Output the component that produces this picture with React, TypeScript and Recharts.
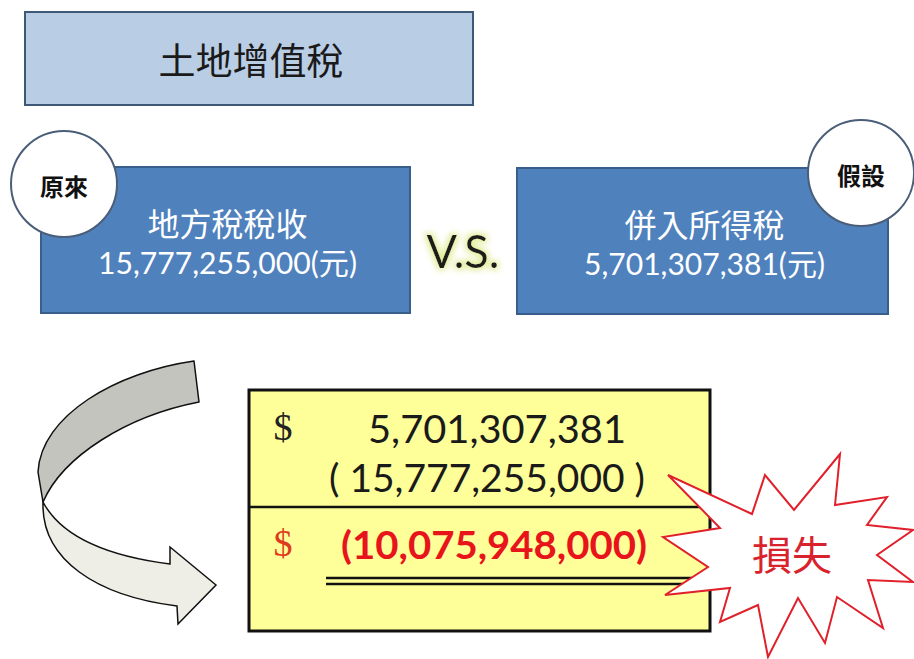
import { ComposedChart, XAxis, YAxis, ReferenceArea, ReferenceDot } from "recharts";

// text content
const headerTitle = "土地增值稅";
const scenarioTags = ["原來", "假設"];
const scenarioNames = ["地方稅稅收", "併入所得稅"];
const scenarioAmounts = [15777255000, 5701307381];
const currencyUnit = "元";
const versusLabel = "V.S.";
const lossAmount = 10075948000;
const lossLabel = "損失";

const W = 914;
const H = 659;

// layout in axis units (1 unit = 1px)
const titleBox = { x1: 25, x2: 473, y1: 12, y2: 105 };
const scenarioBoxes = [
  { x1: 41, x2: 410, y1: 167, y2: 313 },
  { x1: 517, x2: 888, y1: 168, y2: 314 },
];
const tagSpots = [
  { x: 64, y: 184 },
  { x: 861, y: 173 },
];
const versusSpot = { x: 463, y: 250 };
const ledgerBox = { x1: 249, x2: 710, y1: 390, y2: 631 };
const arrowBox = { x1: 37, x2: 217, y1: 360, y2: 625 };
const burstBox = { x1: 661, x2: 914, y1: 453, y2: 658 };

const CJK = "'Noto Sans CJK TC', sans-serif";
const LATIN = "Lato, 'Noto Sans CJK TC', sans-serif";
const SERIF = "'Liberation Serif', 'DejaVu Serif', serif";

const fmt = (n: number) => n.toLocaleString("en-US");

const TitleShape = (p: any) => {
  const { x, y, width, height } = p;
  return (
    <g>
      <rect x={x} y={y} width={width} height={height} fill="#B9CDE5" stroke="#3E5878" strokeWidth={2} />
      <text
        x={x + width / 2 + 2}
        y={y + height / 2}
        textAnchor="middle"
        dominantBaseline="central"
        fontFamily={CJK}
        fontSize={37}
        fill="#1a1a1a"
      >
        {headerTitle}
      </text>
    </g>
  );
};

const makeScenarioShape = (i: number) => (p: any) => {
  const { x, y, width, height } = p;
  const cx = x + width / 2;
  const amountText = `${fmt(scenarioAmounts[i])}(${currencyUnit})`;
  return (
    <g>
      <rect x={x} y={y} width={width} height={height} fill="#4F81BD" stroke="#395E8C" strokeWidth={2} />
      <text x={cx + 2} y={y + 55} textAnchor="middle" dominantBaseline="central" fontFamily={CJK} fontSize={32} fill="#fff">
        {scenarioNames[i]}
      </text>
      <text
        x={cx + 2}
        y={y + 95}
        textAnchor="middle"
        dominantBaseline="central"
        fontFamily={LATIN}
        fontSize={30}
        fill="#fff"
        textLength={i === 0 ? 259 : 241}
        lengthAdjust="spacingAndGlyphs"
      >
        {amountText}
      </text>
    </g>
  );
};

const makeTagShape = (i: number) => (p: any) => {
  const { cx, cy, r } = p;
  return (
    <g>
      <circle cx={cx} cy={cy} r={r} fill="#fff" stroke="#4A5E78" strokeWidth={2} />
      <text x={cx} y={cy + 1} textAnchor="middle" dominantBaseline="central" fontFamily={CJK} fontWeight={700} fontSize={24} fill="#111">
        {scenarioTags[i]}
      </text>
    </g>
  );
};

const VersusShape = (p: any) => {
  const { cx, cy } = p;
  return (
    <g>
      <defs>
        <filter id="vsGlow" x="-40%" y="-40%" width="180%" height="180%">
          <feMorphology in="SourceAlpha" operator="dilate" radius="2" result="d" />
          <feGaussianBlur in="d" stdDeviation="3" result="b" />
          <feFlood floodColor="#E2EC98" />
          <feComposite in2="b" operator="in" result="g" />
          <feMerge>
            <feMergeNode in="g" />
            <feMergeNode in="SourceGraphic" />
          </feMerge>
        </filter>
      </defs>
      <text
        x={cx}
        y={cy}
        textAnchor="middle"
        dominantBaseline="central"
        fontFamily={LATIN}
        fontSize={46}
        fill="#1c1c1c"
        filter="url(#vsGlow)"
        textLength={73}
        lengthAdjust="spacingAndGlyphs"
      >
        {versusLabel}
      </text>
    </g>
  );
};

const LedgerShape = (p: any) => {
  const { x, y, width, height } = p;
  return (
    <g>
      <rect x={x} y={y} width={width} height={height} fill="#FFFF99" stroke="#111" strokeWidth={3} />
      <line x1={x} x2={x + width} y1={y + 117} y2={y + 117} stroke="#111" strokeWidth={2.5} />
      <line x1={x + 77} x2={x + 443} y1={y + 188} y2={y + 188} stroke="#111" strokeWidth={2.5} />
      <line x1={x + 77} x2={x + 443} y1={y + 194} y2={y + 194} stroke="#111" strokeWidth={2.5} />
      <text x={x + 34} y={y + 37} textAnchor="middle" dominantBaseline="central" fontFamily={SERIF} fontSize={38} fill="#222">
        $
      </text>
      <text
        x={x + 248}
        y={y + 38}
        textAnchor="middle"
        dominantBaseline="central"
        fontFamily={LATIN}
        fontSize={38}
        fill="#1a1a1a"
        textLength={258}
        lengthAdjust="spacingAndGlyphs"
      >
        {fmt(scenarioAmounts[1])}
      </text>
      <text
        x={x + 238}
        y={y + 87}
        textAnchor="middle"
        dominantBaseline="central"
        fontFamily={LATIN}
        fontSize={38}
        fill="#1a1a1a"
        textLength={316}
        lengthAdjust="spacingAndGlyphs"
      >
        {`( ${fmt(scenarioAmounts[0])} )`}
      </text>
      <text x={x + 34} y={y + 153} textAnchor="middle" dominantBaseline="central" fontFamily={SERIF} fontSize={38} fill="#E03A1E">
        $
      </text>
      <text
        x={x + 245}
        y={y + 154}
        textAnchor="middle"
        dominantBaseline="central"
        fontFamily={LATIN}
        fontWeight={700}
        fontSize={38}
        fill="#E8141B"
        textLength={306}
        lengthAdjust="spacingAndGlyphs"
      >
        {`(${fmt(lossAmount)})`}
      </text>
    </g>
  );
};

const ArrowShape = (p: any) => {
  const { x, y, width, height } = p;
  const sx = width / 180;
  const sy = height / 265;
  return (
    <g transform={`translate(${x},${y}) scale(${sx},${sy})`}>
      <path
        d="M157,1 C80,12 4,55 1,112 L6,142 C26,96 90,56 162,42 Z"
        fill="#C4C4BF"
        stroke="#111"
        strokeWidth={1.5}
        strokeLinejoin="round"
      />
      <path
        d="M6,142 C4,200 60,236 140,246 L141,264 L179,225 L133,187 L133,204 C70,196 24,176 6,142 Z"
        fill="#EEEDE6"
        stroke="#111"
        strokeWidth={1.5}
        strokeLinejoin="miter"
      />
    </g>
  );
};

const burstPoints = [
  [7, 22], [91, 61], [104, 22], [133, 57], [179, 1], [174, 52],
  [226, 44], [206, 72], [252, 77], [216, 102], [252, 129], [207, 127],
  [222, 175], [176, 144], [164, 190], [137, 145], [107, 204], [97, 152],
  [59, 169], [69, 135], [4, 142], [47, 114], [2, 84], [59, 75],
];

const BurstShape = (p: any) => {
  const { x, y, width, height } = p;
  const sx = width / 253;
  const sy = height / 205;
  const pts = burstPoints.map(([px, py]) => `${x + px * sx},${y + py * sy}`).join(" ");
  return (
    <g>
      <polygon points={pts} fill="#fff" stroke="#E0202A" strokeWidth={2} strokeLinejoin="miter" />
      <text
        x={x + 131 * sx}
        y={y + 100 * sy}
        textAnchor="middle"
        dominantBaseline="central"
        fontFamily={CJK}
        fontSize={40}
        fill="#D8232C"
      >
        {lossLabel}
      </text>
    </g>
  );
};

export default function App() {
  return (
    <div style={{ position: "absolute", left: 0, top: 0, background: "#fff" }}>
      <ComposedChart width={W} height={H} margin={{ top: 0, right: 0, bottom: 0, left: 0 }}>
        <XAxis type="number" dataKey="x" domain={[0, W]} allowDataOverflow hide />
        <YAxis type="number" dataKey="y" domain={[0, H]} allowDataOverflow reversed hide />
        <ReferenceArea {...titleBox} shape={TitleShape} ifOverflow="visible" />
        {scenarioBoxes.map((b, i) => (
          <ReferenceArea key={`box-${i}`} {...b} shape={makeScenarioShape(i)} ifOverflow="visible" />
        ))}
        <ReferenceArea {...arrowBox} shape={ArrowShape} ifOverflow="visible" />
        <ReferenceArea {...ledgerBox} shape={LedgerShape} ifOverflow="visible" />
        <ReferenceArea {...burstBox} shape={BurstShape} ifOverflow="visible" />
        {tagSpots.map((s, i) => (
          <ReferenceDot key={`tag-${i}`} x={s.x} y={s.y} r={53} shape={makeTagShape(i)} ifOverflow="visible" />
        ))}
        <ReferenceDot x={versusSpot.x} y={versusSpot.y} r={1} shape={VersusShape} ifOverflow="visible" />
      </ComposedChart>
    </div>
  );
}
